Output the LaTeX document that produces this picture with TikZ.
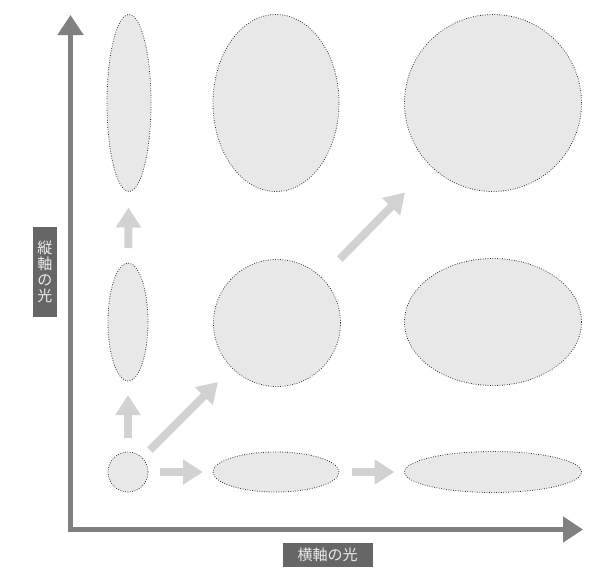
\documentclass[tikz,border=0pt]{standalone}
\usepackage{fontspec}
\newfontfamily\cjk{Noto Sans CJK JP}
\usepackage{tikz}
\usetikzlibrary{shapes.geometric,arrows.meta}
\definecolor{axisgray}{RGB}{128,128,128}
\definecolor{beamfill}{RGB}{232,232,232}
\definecolor{beamedge}{RGB}{50,50,50}
\definecolor{growgray}{RGB}{210,210,210}
\definecolor{labelgray}{RGB}{102,102,102}
\tikzset{
    beam/.style={ellipse, draw=beamedge, fill=beamfill, line width=0.8pt, dash pattern=on 0.8pt off 1.6pt, inner sep=0pt, outer sep=0pt},
    axisline/.style={line width=5pt, draw=axisgray, {Triangle[width=25pt,length=20pt]}-{Triangle[width=25pt,length=20pt]}},
    growarrow/.style={line width=8pt, draw=growgray, -{Triangle[width=24pt,length=20pt]}},
    axislabel/.style={fill=labelgray, text=white!92!black, font=\cjk\fontsize{15}{16}\selectfont, inner sep=0pt},
}

\begin{document}
\begin{tikzpicture}[x=1pt, y=-1pt]
    \useasboundingbox (0,0) rectangle (595,568);
    % axes
    \coordinate (origin) at (70.5,529.5);
    \coordinate (ytop) at (70.5,15);
    \coordinate (xend) at (583,529.5);
    \draw[axisline] (ytop) -- (origin) -- (xend);

    % beam profiles
    \foreach \name/\x/\y/\w/\h in {A1/128/472/40/40, A2/128/322/40/118, A3/129/103/44/177,
                                   B1/276/472/126/40, B2/277/323/127/127, B3/276/103/126/177,
                                   C1/493/472/177/41, C2/493/322/177/127, C3/493/103/177/177} {
        \node[beam, minimum width=\w pt, minimum height=\h pt] (\name) at (\x,\y) {};
    }

    % growth arrows
    \draw[growarrow, shorten <=14pt, shorten >=14pt] (A1) -- (A2);
    \draw[growarrow, shorten <=15pt, shorten >=16pt] (A2) -- (A3);
    \draw[growarrow, shorten <=12pt, shorten >=10pt] (A1) -- (B1);
    \draw[growarrow, shorten <=13pt, shorten >=10pt] (B1) -- (C1);
    \draw[growarrow, shorten <=11pt, shorten >=20pt] (A1) -- (B2);
    \draw[growarrow, shorten <=26pt, shorten >=37pt] (B2) -- (C3);

    % axis labels
    \node[axislabel, minimum width=90pt, minimum height=24pt] (xlabel) at (327.5,555) {横軸の光};
    \node[axislabel, minimum width=24pt, minimum height=90pt, align=center] (ylabel) at (45,272) {縦\\軸\\の\\光};
\end{tikzpicture}
\end{document}
